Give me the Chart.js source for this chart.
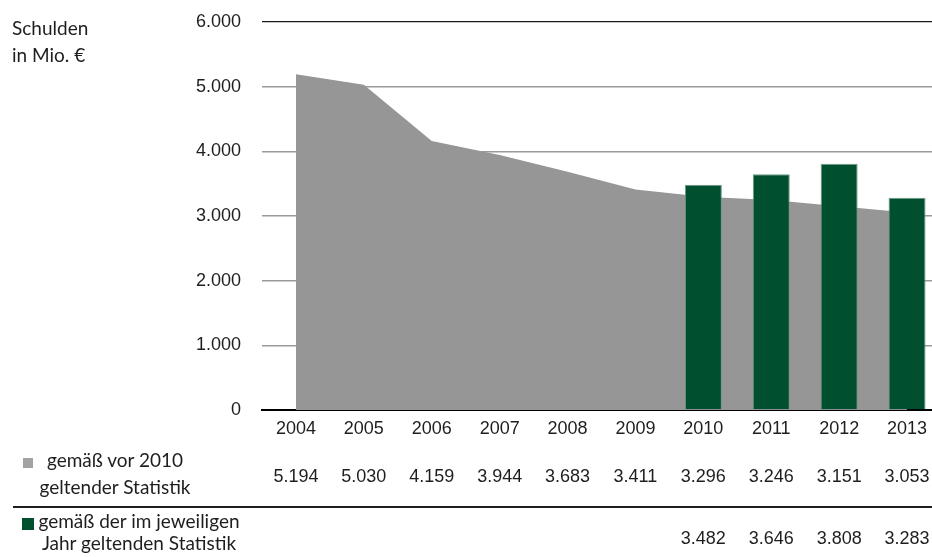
<!DOCTYPE html>
<html lang="de">
<head>
<meta charset="utf-8">
<script src="https://cdn.jsdelivr.net/npm/chart.js@4"></script>
<style>
  html, body { margin: 0; padding: 0; background: #fff; width: 932px; height: 557px; overflow: hidden; }
  #wrap { position: absolute; left: 0; top: 0; width: 941px; height: 557px; }
  .txt { position: absolute; font-family: Lato, "Open Sans", sans-serif; font-size: 19px; color: #1e1e1e; white-space: nowrap; }
  .sq { position: absolute; }
  #sep { position: absolute; left: 13px; top: 506px; width: 930px; height: 2px; background: #1e1e1e; }
</style>
</head>
<body>
<div id="wrap"><canvas id="c"></canvas></div>
<div class="txt" id="title" style="left:12px; top:14px; line-height:27px;"></div>
<div class="sq" id="sq1" style="left:23px; top:458px; width:10px; height:10px;"></div>
<div class="txt" id="leg1" style="left:30px; width:170px; top:446px; line-height:27px; text-align:center;"></div>
<div id="sep"></div>
<div class="sq" id="sq2" style="left:22px; top:518px; width:12px; height:12px;"></div>
<div class="txt" id="leg2" style="left:36px; width:206px; top:510px; line-height:21.5px; text-align:center;"></div>
<script>
// ---- data ----
const years = ['2004','2005','2006','2007','2008','2009','2010','2011','2012','2013'];
const debtOldStat = [5194, 5030, 4159, 3944, 3683, 3411, 3296, 3246, 3151, 3053];
const debtCurrentStat = [null, null, null, null, null, null, 3482, 3646, 3808, 3283];
const seriesOldLabel = ['gemäß vor 2010', 'geltender Statistik'];
const seriesCurrentLabel = ['gemäß der im jeweiligen', 'Jahr geltenden Statistik'];
const axisTitle = ['Schulden', 'in Mio. €'];
const yMin = 0, yMax = 6000, yStep = 1000;

const colOld = '#969696';
const colOldLegend = '#a3a3a3';
const colNew = '#005030';

function fmt(v) { return String(v).replace(/\B(?=(\d{3})+(?!\d))/g, '.'); }

document.getElementById('title').innerHTML = axisTitle.join('<br>');
document.getElementById('leg1').innerHTML = seriesOldLabel.join('<br>');
document.getElementById('leg2').innerHTML = seriesCurrentLabel.join('<br>');
document.getElementById('sq1').style.background = colOldLegend;
document.getElementById('sq2').style.background = colNew;

const numFont = { family: '"Liberation Sans", Arial, sans-serif', size: 18 };

const tablePlugin = {
  id: 'tableRows',
  afterDraw(chart) {
    const ctx = chart.ctx;
    const xs = chart.scales.x;
    ctx.save();
    ctx.font = '18px "Liberation Sans", Arial, sans-serif';
    ctx.fillStyle = '#1e1e1e';
    ctx.textAlign = 'center';
    ctx.textBaseline = 'alphabetic';
    years.forEach((y, i) => {
      const x = xs.getPixelForValue(i);
      if (debtOldStat[i] != null) ctx.fillText(fmt(debtOldStat[i]), x, 482);
      if (debtCurrentStat[i] != null) ctx.fillText(fmt(debtCurrentStat[i]), x, 544);
    });
    ctx.restore();
  }
};

new Chart(document.getElementById('c'), {
  data: {
    labels: years,
    datasets: [
      {
        type: 'bar',
        label: seriesCurrentLabel.join(' '),
        data: debtCurrentStat,
        backgroundColor: colNew,
        borderColor: '#6f9a86',
        borderWidth: 1,
        borderSkipped: 'start',
        categoryPercentage: 1,
        barPercentage: 0.545,
        order: 1
      },
      {
        type: 'line',
        label: seriesOldLabel.join(' '),
        data: debtOldStat,
        fill: 'origin',
        backgroundColor: colOld,
        borderColor: colOld,
        borderWidth: 0,
        pointRadius: 0,
        tension: 0,
        order: 2
      }
    ]
  },
  options: {
    responsive: true,
    maintainAspectRatio: false,
    animation: false,
    layout: { padding: { top: 22, left: 0, right: 0, bottom: 0 } },
    plugins: { legend: { display: false }, tooltip: { enabled: false } },
    scales: {
      x: {
        type: 'category',
        offset: true,
        z: 1,
        grid: { display: false, drawTicks: false },
        border: { display: true, color: '#000', width: 2 },
        ticks: { color: '#1e1e1e', font: numFont, padding: 8, maxRotation: 0, autoSkip: false },
        afterFit(s) { s.height = 147; s.paddingLeft = 0; s.paddingRight = 0; }
      },
      y: {
        min: yMin, max: yMax,
        grid: {
          drawTicks: false,
          color: c => (c.tick.value === yMax ? '#1a1a1a' : (c.tick.value === 0 ? '#000' : '#9a9a9a')),
          lineWidth: c => (c.tick.value === yMax ? 1.3 : 1.5)
        },
        border: { display: false },
        ticks: { stepSize: yStep, color: '#1e1e1e', font: numFont, padding: 21, callback: v => fmt(v) },
        afterFit(s) { s.width = 262; s.paddingTop = 0; s.paddingBottom = 0; }
      }
    }
  },
  plugins: [tablePlugin]
});
</script>
</body>
</html>
